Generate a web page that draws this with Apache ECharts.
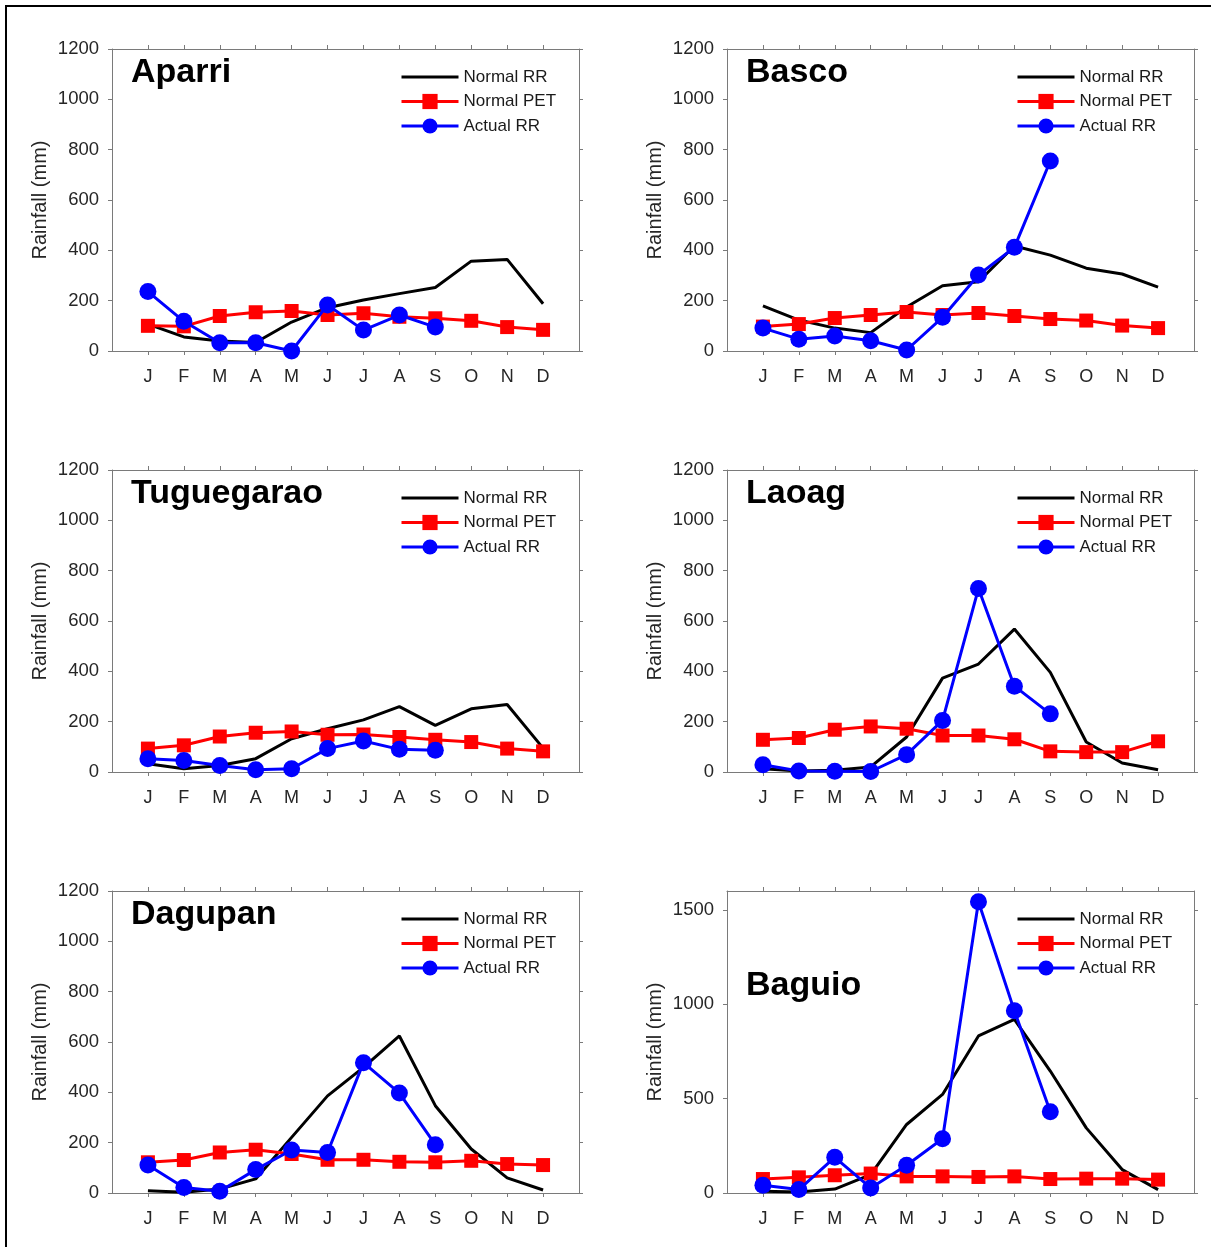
<!DOCTYPE html>
<html>
<head>
<meta charset="utf-8">
<script src="https://cdn.jsdelivr.net/npm/echarts@6/dist/echarts.min.js"></script>
<style>
html,body{margin:0;padding:0;background:#fff;}
#chart{width:1211px;height:1247px;}
</style>
</head>
<body>
<div id="chart"></div>
<script>
const months = ['J','F','M','A','M','J','J','A','S','O','N','D'];
const stations = ['Aparri','Basco','Tuguegarao','Laoag','Dagupan','Baguio'];
const seriesNames = ['Normal RR','Normal PET','Actual RR'];

const aparriNormalRR  = [107, 56, 40, 34, 115, 172, 203, 228, 252, 357, 364, 188];
const aparriNormalPET = [100, 98, 139, 154, 159, 143, 150, 136, 130, 120, 95, 84];
const aparriActualRR  = [236, 118, 33, 33, 0, 183, 83, 143, 95];

const bascoNormalRR  = [179, 123, 91, 73, 175, 259, 275, 417, 381, 329, 306, 254];
const bascoNormalPET = [97, 107, 131, 143, 155, 143, 151, 139, 127, 121, 101, 91];
const bascoActualRR  = [91, 47, 60, 41, 4, 134, 302, 412, 755];

const tuguegaraoNormalRR  = [33, 13, 26, 53, 132, 172, 207, 260, 185, 251, 268, 95];
const tuguegaraoNormalPET = [93, 106, 141, 156, 161, 148, 149, 139, 128, 119, 93, 82];
const tuguegaraoActualRR  = [53, 46, 26, 9, 13, 93, 123, 90, 86];

const laoagNormalRR  = [13, 4, 7, 20, 139, 373, 429, 568, 396, 119, 36, 9];
const laoagNormalPET = [128, 135, 168, 181, 172, 145, 145, 130, 82, 79, 79, 122];
const laoagActualRR  = [29, 4, 3, 2, 69, 205, 729, 341, 231];

const dagupanNormalRR  = [9, 3, 16, 56, 221, 386, 499, 624, 347, 175, 60, 12];
const dagupanNormalPET = [122, 131, 161, 172, 155, 132, 132, 124, 122, 128, 115, 111];
const dagupanActualRR  = [111, 22, 7, 93, 171, 161, 518, 397, 192];

const baguioNormalRR  = [9, 5, 21, 97, 363, 522, 832, 920, 646, 345, 124, 18];
const baguioNormalPET = [74, 83, 94, 103, 88, 88, 85, 88, 74, 76, 76, 71];
const baguioActualRR  = [41, 18, 189, 27, 147, 287, 1543, 965, 430];

const yTicksDefault = [0, 200, 400, 600, 800, 1000, 1200];
const yTicksBaguio = [0, 500, 1000, 1500];
const yMaxDefault = 1200;
const yMaxBaguio = 1600;

const stationData = [
  [aparriNormalRR, aparriNormalPET, aparriActualRR],
  [bascoNormalRR, bascoNormalPET, bascoActualRR],
  [tuguegaraoNormalRR, tuguegaraoNormalPET, tuguegaraoActualRR],
  [laoagNormalRR, laoagNormalPET, laoagActualRR],
  [dagupanNormalRR, dagupanNormalPET, dagupanActualRR],
  [baguioNormalRR, baguioNormalPET, baguioActualRR]
];

// layout
const colLeft = [112, 727];
const rowTop = [49, 470, 891];
const gridW = 467, gridH = 302;
const legendLeft = [400, 1016];
const titleY = [74, 495, 916];
const axisColor = '#7a7a7a';
const labelColor = '#262626';
const fontFam = 'Liberation Sans, Arial, sans-serif';
const monthPos = months.map((m, i) => i + 1);

const chart = echarts.init(document.getElementById('chart'), null, {renderer: 'canvas'});

const grids = [], xAxes = [], yAxes = [], series = [], legends = [], graphics = [];

stations.forEach((name, k) => {
  const col = k % 2, row = Math.floor(k / 2);
  const isBaguio = name === 'Baguio';
  const yTicks = isBaguio ? yTicksBaguio : yTicksDefault;
  const yMax = isBaguio ? yMaxBaguio : yMaxDefault;
  grids.push({left: colLeft[col], top: rowTop[row], width: gridW, height: gridH, containLabel: false});
  const xBase = {
    type: 'value', gridIndex: k, min: 0, max: 13, interval: 1,
    axisLine: {show: true, onZero: false, lineStyle: {color: axisColor, width: 1}},
    axisTick: {show: true, inside: false, length: 4, customValues: monthPos, lineStyle: {color: axisColor}},
    splitLine: {show: false}
  };
  xAxes.push(Object.assign({}, xBase, {
    position: 'bottom',
    axisLabel: {show: true, customValues: monthPos, margin: 17, fontSize: 18, color: labelColor,
      fontFamily: fontFam, formatter: v => months[Math.round(v) - 1] || ''}
  }));
  xAxes.push(Object.assign({}, xBase, {position: 'top', axisLabel: {show: false}}));
  const yBase = {
    type: 'value', gridIndex: k, min: 0, max: yMax,
    axisLine: {show: true, onZero: false, lineStyle: {color: axisColor, width: 1}},
    axisTick: {show: true, inside: false, length: 4, customValues: yTicks, lineStyle: {color: axisColor}},
    splitLine: {show: false}
  };
  yAxes.push(Object.assign({}, yBase, {
    position: 'left',
    name: 'Rainfall (mm)', nameLocation: 'middle', nameGap: 62,
    nameTextStyle: {fontSize: 20, color: labelColor, fontFamily: fontFam},
    axisLabel: {show: true, customValues: yTicks, margin: 13, fontSize: 18.5, color: labelColor,
      fontFamily: fontFam, formatter: v => String(Math.round(v))}
  }));
  yAxes.push(Object.assign({}, yBase, {position: 'right', axisLabel: {show: false}}));

  const xi = k * 2, yi = k * 2;
  const [nrr, npet, arr] = stationData[k];
  series.push({
    name: seriesNames[0], type: 'line', xAxisIndex: xi, yAxisIndex: yi,
    data: nrr.map((v, i) => [i + 1, v]), symbol: 'none', z: 2,
    lineStyle: {color: '#000000', width: 3}, itemStyle: {color: '#000000'}, animation: false
  });
  series.push({
    name: seriesNames[1], type: 'line', xAxisIndex: xi, yAxisIndex: yi,
    data: npet.map((v, i) => [i + 1, v]), symbol: 'rect', symbolSize: 14, z: 3,
    lineStyle: {color: '#ff0000', width: 3}, itemStyle: {color: '#ff0000'}, animation: false
  });
  series.push({
    name: seriesNames[2], type: 'line', xAxisIndex: xi, yAxisIndex: yi,
    data: arr.map((v, i) => [i + 1, v]), symbol: 'circle', symbolSize: 17, z: 4,
    lineStyle: {color: '#0000ff', width: 3}, itemStyle: {color: '#0000ff'}, animation: false
  });

  legends.push({
    orient: 'vertical', left: legendLeft[col], top: rowTop[row] + 18.5, padding: 0,
    itemWidth: 57, itemHeight: 19, itemGap: 5.5, selectedMode: false,
    lineStyle: {width: 3},
    data: [
      {name: seriesNames[0], itemStyle: {opacity: 0}},
      {name: seriesNames[1]},
      {name: seriesNames[2]}
    ],
    textStyle: {fontSize: 17, color: '#1a1a1a', fontFamily: fontFam, lineHeight: 19}
  });

  graphics.push({
    type: 'text', left: colLeft[col] + 19, top: isBaguio ? 987 - 18 : titleY[row] - 18,
    style: {text: name, fontSize: 34, fontWeight: 'bold', fill: '#000', fontFamily: fontFam}
  });
});

graphics.push({
  type: 'rect', shape: {x: 6, y: 6, width: 1215, height: 1255},
  style: {fill: 'none', stroke: '#000', lineWidth: 2}, silent: true
});

chart.setOption({
  animation: false,
  backgroundColor: '#ffffff',
  grid: grids,
  xAxis: xAxes,
  yAxis: yAxes,
  series: series,
  legend: legends,
  graphic: graphics
});
</script>
</body>
</html>
